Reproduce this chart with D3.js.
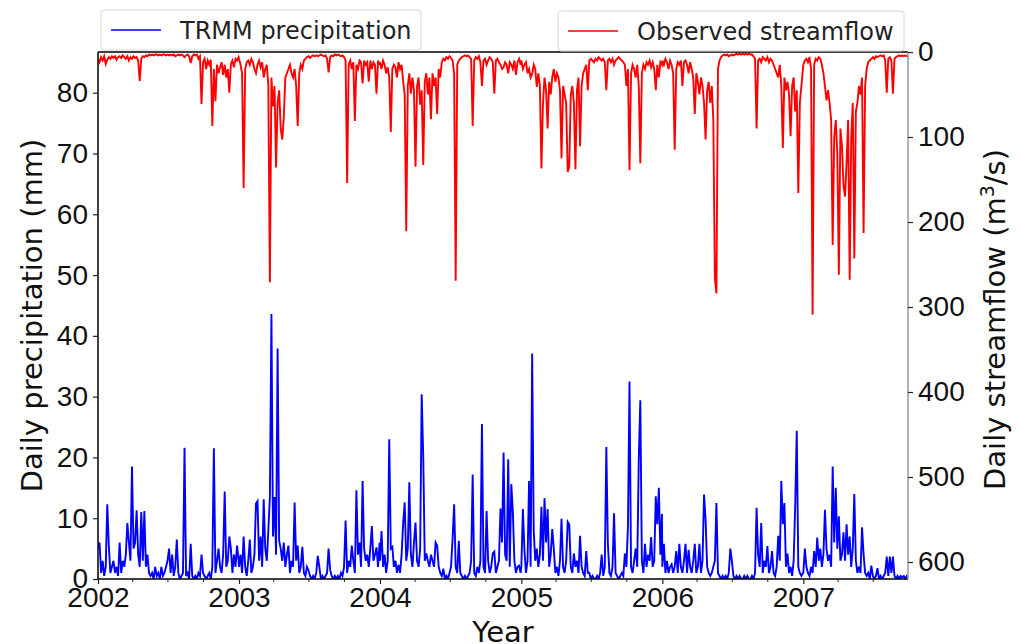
<!DOCTYPE html>
<html>
<head>
<meta charset="utf-8">
<script src="https://cdn.jsdelivr.net/npm/d3@7"></script>
<style>
body { margin: 0; background: #fff; }
svg { font-family: "DejaVu Sans", sans-serif; }
.axis text { font-size: 28px; fill: #111; }
.axis line { stroke: #222; stroke-width: 1.2; }
.axis path { display: none; }
.axis-label { font-size: 29px; fill: #111; }
.legend text { font-size: 24px; fill: #222; }
</style>
</head>
<body>
<svg width="1021" height="644"></svg>
<script>
var stepDays = 4;

// TRMM precipitation (mm)
var precip2002 = [5,6,1,3,0.5,2,12.3,5.5,1,2,3,1,2,0.5,6,1,3,2,4,9.2,6,3,18.5,5,6,11.3,4,2,11,3,
  11.2,2,4,1,0.5,1,0,2,0.5,1,0,2,0.5,1,2,3,5,1,4,0.5,2,6.5,1,0,0.5,1,21.6,0.5,1,0,
  5.8,0.5,0,0.5,0,1,0.5,4,1,0.5,0,0.5,1,0,2,21.5,1,3,5,2,1,4,14.4,2,3,7,5,1,4,2,5.5,3];
var precip2003 = [2,4,1,7,2,0.5,3,6.5,1,2,4,12.4,12.8,3,7,2,13.1,5,3,8,13.5,43.6,7,13.5,4,37.9,6.3,5,3,6,
  2,4,5.5,1,3,2,12.6,3,5.5,1,2,5.3,1,0.5,2,1.4,0.5,0,0.5,0,1,3.8,2,0,0.5,0,0.5,1,5,1.5,
  0.5,0,0.5,0,0.5,0,1,0.5,2,9.6,1,3,2,5.5,3,1,14.6,4,6,2,16.1,5,3,4,2,5,8.7,3,4,5.2,2,6];
var precip2004 = [3,7.9,2,4,1,3,23,5,5.3,2,3,1,2.3,1,4,9.2,12.6,3,5,15.9,4,2,6,9.3,3,2,5,30.4,20.2,3,
  4.2,3,2,4,3,2,6,5.5,2,1,0.5,1.7,0,0.5,0,1,2,6.6,12.3,2,1,6.3,1,0.5,0,0.5,0,0.5,1,3,
  17.2,1,0.5,2,1,3,25.5,2,1,11.2,3,1,2,4.2,4.5,1,2,3,11.6,6,20.8,4,3,19.7,2,15.6,11,3,1,2,2.2,1];
var precip2005 = [2,11.5,4.7,1,3,16.1,2,37.1,8,3,5,2,4,11.9,3,13.3,6,11.5,2,4,8.2,5,1,2,0.5,3,9.9,2,1,3,
  9.4,9,2,1,4.2,2,3,1,7.1,2,1,0.5,4.6,1,1,0,0.5,0,0,0.5,0,1,4,0.5,2,21.7,5.8,1,0.5,2,
  10.8,1,0.5,0,0.5,1,0.5,4.2,2,8.7,32.5,2,1,3,5,2,19.7,29.4,3,1,5.8,2,4,3,6.9,2,3,13.6,9,15,4,10.7];
var precip2006 = [2,5.8,1,3,1,2,2.4,1,2,4.6,1,5.8,2,1,3,5.8,1,4.8,2,1,3,5.8,1,2,5.8,1,3,13.9,9.8,2,
  1,0.5,1,2,3,12.5,1,0.5,0,0.5,0,0.5,0,1,5,3,0.5,0,0.5,0,0.5,0,0,0.5,0,0.5,0,0,0.5,0,
  1,11.7,4,2,9.2,1,3,2,5.4,1,2,4.6,1,0.5,2,7.1,3,16.1,9,12.5,2,4.2,1,2,0.5,3,12.2,24.4,2,1,0.5,1];
var precip2007 = [1,5,2,1,0.5,2,1,4.6,2,6.8,3,5,2,4,11.4,5,3,4,2,18.5,6,15,5,10.3,3,4,7.7,3,9,4,
  7,2,5,14,3,1,2,1,8.5,4,1,0.5,1,0,2.2,0.5,0,0.5,1.8,0,0.5,0,0.5,1,3.7,0.5,3.7,1,3.7,0.5,
  0,0.5,0,0.5,0.3,0.5,0,0.5,0.3];

// Observed streamflow (m3/s)
var flow2002 = [8,12,6,10,5,14,9,6,8,5,7,5,9,6,5,7,4,6,8,5,10,6,8,5,7,6,10,34,8,5,
  6,4,5,3,4,3,4,3,3,4,3,4,3,3,4,3,4,3,4,3,5,4,3,4,3,4,6,4,3,5,
  13,5,3,4,3,8,5,61,12,8,20,10,15,9,87,20,58,15,25,18,12,27,15,30,20,48,14,10,18,8,10,6];
var flow2003 = [8,15,25,160,20,12,10,15,8,12,20,25,15,10,18,12,30,20,15,40,271,30,64,40,136,60,45,90,103,77,
  30,25,20,15,25,30,20,40,87,25,15,20,10,8,6,5,7,5,4,5,4,5,4,3,4,5,4,8,24,6,
  4,5,3,4,3,4,5,4,6,10,154,15,10,20,12,81,15,20,10,12,37,10,15,12,35,10,20,12,15,49,10,15];
var flow2004 = [12,20,10,15,25,18,30,94,20,15,18,30,12,20,15,35,50,211,40,25,49,30,45,135,40,30,62,45,133,35,
  25,50,30,79,25,40,30,73,20,30,12,8,10,6,8,5,7,10,25,269,15,10,8,6,5,4,5,4,6,8,
  87,10,6,8,5,12,40,10,8,15,10,6,8,12,49,10,8,12,15,20,18,12,15,25,12,15,20,10,27,12,8,15];
var flow2005 = [10,20,15,12,25,20,30,26,15,20,41,25,40,137,60,30,45,90,35,50,30,20,35,25,30,45,125,40,50,60,
  141,135,50,40,60,138,45,30,111,40,25,20,15,45,10,8,10,12,8,10,6,8,10,8,12,45,10,8,12,8,
  15,10,8,6,8,10,12,15,40,20,139,25,15,20,30,15,40,131,25,15,20,12,15,10,18,12,20,45,15,30,12,15];
var flow2006 = [10,15,8,12,20,10,15,25,115,20,12,15,10,40,12,10,15,25,12,20,30,73,25,35,50,30,40,60,103,45,
  35,60,40,80,266,284,20,10,6,4,3,4,3,5,4,3,4,3,2,3,2,3,2,3,2,3,2,3,3,5,
  8,90,10,8,12,6,8,10,6,12,8,10,15,20,25,30,15,40,113,30,45,35,50,99,40,30,70,45,166,60,40,20];
var flow2007 = [15,10,8,12,6,20,309,15,8,10,6,8,15,25,40,57,45,60,80,227,100,80,120,262,90,110,157,170,130,80,
  268,100,60,243,70,60,40,50,30,213,40,20,12,10,8,6,8,5,6,5,4,5,4,10,48,8,6,10,49,8,
  6,5,4,5,4,5,4,5,6];

var years = [2002, 2003, 2004, 2005, 2006, 2007];
var precipByYear = [precip2002, precip2003, precip2004, precip2005, precip2006, precip2007];
var flowByYear = [flow2002, flow2003, flow2004, flow2005, flow2006, flow2007];

var precipTicks = [0, 10, 20, 30, 40, 50, 60, 70, 80];
var flowTicks = [0, 100, 200, 300, 400, 500, 600];
var yearTicks = [2002, 2003, 2004, 2005, 2006, 2007];

var svg = d3.select('svg');
var padding = {t: 52, r: 113, b: 65, l: 98};
var svgWidth = +svg.attr('width');
var svgHeight = +svg.attr('height');
var chartWidth = svgWidth - padding.l - padding.r;
var chartHeight = svgHeight - padding.t - padding.b;

function toSeries(year, values) {
    return values.map(function(v, k) {
        return {date: new Date(year, 0, 1 + stepDays * k), value: v};
    });
}

var precip = [], flow = [];
years.forEach(function(y, i) {
    precip = precip.concat(toSeries(y, precipByYear[i]));
    flow = flow.concat(toSeries(y, flowByYear[i]));
});

var xScale = d3.scaleTime()
    .domain([new Date(2002, 0, 1), new Date(2007, 8, 29)])
    .range([0, chartWidth]);
var yLeft = d3.scaleLinear().domain([0, 86.7]).range([chartHeight, 0]);
var yRight = d3.scaleLinear().domain([0, 620]).range([0, chartHeight]);

var chartG = svg.append('g')
    .attr('transform', 'translate(' + [padding.l, padding.t] + ')');

chartG.append('clipPath').attr('id', 'plotClip')
    .append('rect').attr('width', chartWidth).attr('height', chartHeight);

var precipLine = d3.line()
    .x(function(d) { return xScale(d.date); })
    .y(function(d) { return yLeft(d.value); });
var flowLine = d3.line()
    .x(function(d) { return xScale(d.date); })
    .y(function(d) { return yRight(d.value); });

chartG.append('path')
    .datum(precip)
    .attr('clip-path', 'url(#plotClip)')
    .attr('fill', 'none')
    .attr('stroke', '#0000ff')
    .attr('stroke-width', 1.9)
    .attr('d', precipLine);

chartG.append('path')
    .datum(flow)
    .attr('clip-path', 'url(#plotClip)')
    .attr('fill', 'none')
    .attr('stroke', '#ff0000')
    .attr('stroke-width', 1.9)
    .attr('d', flowLine);

// spines
chartG.append('line').attr('x1', 0).attr('x2', 0).attr('y1', 0).attr('y2', chartHeight)
    .attr('stroke', '#000').attr('stroke-width', 1.5);
chartG.append('line').attr('x1', 0).attr('x2', chartWidth).attr('y1', chartHeight).attr('y2', chartHeight)
    .attr('stroke', '#000').attr('stroke-width', 1.5);
chartG.append('line').attr('x1', 0).attr('x2', chartWidth).attr('y1', 0).attr('y2', 0)
    .attr('stroke', '#000').attr('stroke-width', 1.5);
chartG.append('line').attr('x1', chartWidth).attr('x2', chartWidth).attr('y1', 0).attr('y2', chartHeight)
    .attr('stroke', '#999').attr('stroke-width', 1.5);

// axes
chartG.append('g').attr('class', 'axis')
    .call(d3.axisLeft(yLeft).tickValues(precipTicks).tickSize(5).tickPadding(5));

chartG.append('g').attr('class', 'axis')
    .attr('transform', 'translate(' + [chartWidth, 0] + ')')
    .call(d3.axisRight(yRight).tickValues(flowTicks).tickSize(5).tickPadding(5));

var yearDates = yearTicks.map(function(y) { return new Date(y, 0, 1); });
chartG.append('g').attr('class', 'axis')
    .attr('transform', 'translate(' + [0, chartHeight] + ')')
    .call(d3.axisBottom(xScale).tickValues(yearDates).tickFormat(d3.timeFormat('%Y'))
        .tickSize(5).tickPadding(3));

// quarterly minor ticks
var minor = d3.timeMonth.every(3).range(xScale.domain()[0], xScale.domain()[1])
    .filter(function(d) { return d.getMonth() !== 0; });
chartG.append('g').selectAll('line')
    .data(minor).enter().append('line')
    .attr('x1', function(d) { return xScale(d); })
    .attr('x2', function(d) { return xScale(d); })
    .attr('y1', chartHeight).attr('y2', chartHeight + 3)
    .attr('stroke', '#222').attr('stroke-width', 1);

// axis labels
svg.append('text').attr('class', 'axis-label')
    .attr('text-anchor', 'middle')
    .attr('transform', 'translate(' + [42, padding.t + chartHeight / 2] + ')rotate(-90)')
    .text('Daily precipitation (mm)');

var rightLabel = svg.append('text').attr('class', 'axis-label')
    .attr('text-anchor', 'middle')
    .attr('transform', 'translate(' + [1005, padding.t + chartHeight / 2 + 4] + ')rotate(-90)');
rightLabel.append('tspan').text('Daily streamflow (m');
rightLabel.append('tspan').attr('baseline-shift', 'super').attr('font-size', '19px').text('3');
rightLabel.append('tspan').text('/s)');

svg.append('text').attr('class', 'axis-label')
    .attr('text-anchor', 'middle')
    .attr('x', padding.l + chartWidth / 2).attr('y', 642)
    .text('Year');

// legends
function legend(x, y, w, color, label) {
    var g = svg.append('g').attr('class', 'legend')
        .attr('transform', 'translate(' + [x, y] + ')');
    g.append('rect').attr('width', w).attr('height', 40).attr('rx', 3)
        .attr('fill', '#fff').attr('fill-opacity', 0.9)
        .attr('stroke', '#d6d6d6').attr('stroke-width', 1);
    g.append('line').attr('x1', 10).attr('x2', 60).attr('y1', 20).attr('y2', 20)
        .attr('stroke', color).attr('stroke-width', 1.5);
    g.append('text').attr('x', 79).attr('y', 29).text(label);
}
legend(101, 10, 320, '#0000ff', 'TRMM precipitation');
legend(558, 11, 346, '#ff0000', 'Observed streamflow');
</script>
</body>
</html>
